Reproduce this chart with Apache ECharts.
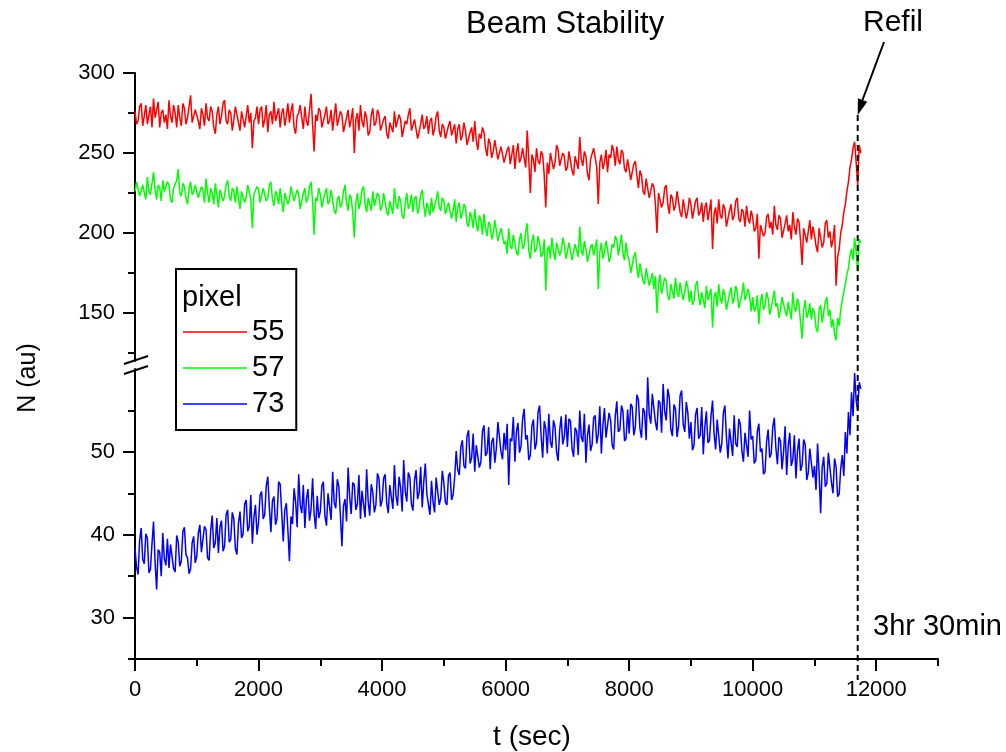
<!DOCTYPE html>
<html>
<head>
<meta charset="utf-8">
<title>Beam Stability</title>
<script src="https://cdn.jsdelivr.net/npm/echarts@6/dist/echarts.min.js"></script>
<style>
  html, body { margin: 0; padding: 0; background: #fff; }
  #chart { width: 1006px; height: 752px; }
</style>
</head>
<body>
<div id="chart"></div>
<script>
const tStep = 25
const refillTime = 11700

const pixel55 = [
  276, 268, 270, 279, 281, 267, 273, 280, 268, 274, 279, 266, 284, 272, 271, 282, 266, 275, 277, 269, 274, 265, 283, 273, 269, 280, 275, 266, 280, 272, 267, 281, 278, 268, 272, 279, 286, 269, 270, 277,
  277, 270, 265, 278, 274, 267, 281, 272, 270, 279, 276, 266, 262, 274, 279, 268, 273, 281, 283, 270, 268, 277, 275, 264, 271, 279, 280, 269, 264, 276, 277, 266, 273, 280, 269, 275, 253, 270, 272, 279,
  268, 277, 279, 266, 271, 280, 263, 274, 276, 268, 282, 270, 270, 278, 266, 275, 278, 267, 273, 281, 269, 276, 281, 266, 262, 273, 275, 280, 272, 265, 279, 270, 267, 277, 287, 268, 251, 274, 270, 278,
  276, 266, 265, 274, 279, 268, 270, 277, 264, 273, 281, 267, 268, 276, 274, 263, 262, 272, 277, 266, 271, 278, 250, 271, 275, 264, 280, 270, 266, 276, 272, 261, 263, 274, 278, 267, 269, 277, 274, 264,
  264, 271, 273, 262, 259, 269, 270, 263, 276, 266, 265, 274, 271, 260, 261, 270, 268, 274, 278, 264, 263, 271, 270, 259, 258, 268, 274, 265, 267, 273, 262, 270, 272, 261, 265, 273, 276, 264, 260, 268,
  266, 259, 258, 267, 270, 261, 262, 268, 256, 265, 268, 258, 261, 269, 264, 255, 254, 263, 266, 257, 270, 258, 252, 262, 259, 266, 263, 253, 248, 259, 256, 247, 251, 258, 258, 246, 245, 254, 253, 244,
  244, 252, 254, 243, 249, 255, 240, 250, 256, 244, 247, 253, 252, 241, 264, 246, 225, 249, 246, 238, 253, 245, 243, 251, 249, 236, 216, 244, 237, 250, 251, 240, 244, 255, 252, 242, 241, 250, 248, 239,
  241, 251, 250, 239, 236, 248, 247, 240, 260, 246, 242, 251, 248, 237, 233, 246, 245, 253, 252, 241, 218, 244, 249, 240, 244, 252, 238, 249, 247, 255, 251, 242, 254, 246, 243, 252, 250, 240, 238, 246,
  240, 233, 232, 243, 245, 236, 228, 239, 236, 226, 224, 234, 233, 222, 221, 231, 229, 218, 200, 225, 226, 216, 219, 228, 230, 218, 212, 224, 222, 214, 217, 226, 225, 213, 210, 221, 220, 209, 214, 222,
  218, 209, 210, 220, 222, 211, 213, 219, 207, 216, 219, 208, 214, 221, 190, 212, 216, 206, 221, 211, 209, 218, 215, 204, 205, 214, 218, 208, 211, 220, 222, 209, 207, 215, 213, 204, 217, 209, 206, 214,
  210, 201, 203, 212, 184, 205, 206, 198, 200, 210, 212, 203, 207, 199, 217, 205, 202, 211, 209, 197, 196, 206, 211, 201, 205, 196, 213, 204, 199, 209, 207, 195, 180, 203, 204, 194, 201, 208, 196, 204,
  199, 192, 188, 203, 204, 191, 194, 206, 208, 197, 201, 191, 196, 205, 167, 185, 190, 200, 205, 213, 218, 226, 232, 241, 246, 253, 257, 244, 230, 255, 250
]

const pixel57 = [
  226, 232, 231, 223, 222, 230, 229, 221, 235, 226, 224, 231, 238, 227, 221, 230, 228, 220, 233, 226, 225, 232, 230, 221, 219, 228, 227, 233, 240, 225, 223, 231, 229, 222, 218, 228, 232, 224, 226, 230,
  230, 222, 221, 229, 227, 219, 234, 225, 219, 228, 225, 218, 231, 224, 216, 227, 228, 220, 223, 230, 233, 223, 220, 228, 226, 219, 229, 222, 215, 226, 227, 219, 222, 230, 231, 221, 203, 224, 224, 229,
  227, 219, 218, 228, 229, 220, 222, 230, 232, 221, 217, 226, 224, 218, 228, 220, 213, 225, 226, 218, 221, 229, 230, 220, 219, 227, 224, 215, 216, 225, 228, 219, 222, 229, 232, 220, 199, 222, 220, 228,
  224, 216, 215, 225, 228, 218, 220, 227, 226, 214, 212, 221, 223, 216, 218, 226, 230, 219, 214, 224, 222, 213, 197, 219, 225, 215, 219, 227, 229, 218, 213, 222, 221, 214, 226, 217, 216, 225, 223, 214,
  217, 225, 224, 213, 211, 220, 221, 212, 228, 218, 215, 223, 220, 211, 209, 219, 225, 215, 218, 224, 213, 221, 223, 212, 216, 224, 227, 217, 210, 219, 219, 211, 222, 213, 212, 221, 226, 216, 214, 222,
  220, 212, 211, 219, 218, 209, 214, 221, 207, 216, 219, 209, 212, 218, 216, 206, 204, 213, 210, 203, 215, 206, 201, 211, 208, 199, 212, 203, 198, 207, 205, 196, 200, 208, 207, 195, 194, 203, 202, 193,
  195, 187, 203, 192, 190, 199, 198, 188, 186, 196, 200, 190, 192, 201, 206, 189, 184, 195, 199, 188, 190, 198, 194, 185, 187, 196, 164, 189, 192, 184, 197, 188, 183, 194, 195, 186, 189, 197, 193, 184,
  188, 194, 195, 183, 184, 193, 192, 185, 204, 189, 186, 195, 190, 182, 181, 191, 193, 186, 187, 196, 165, 188, 194, 184, 188, 195, 190, 182, 185, 193, 191, 198, 196, 186, 192, 199, 187, 183, 194, 186,
  183, 175, 176, 185, 188, 178, 172, 181, 180, 170, 168, 178, 177, 167, 171, 175, 165, 173, 150, 168, 174, 162, 163, 172, 170, 161, 158, 168, 167, 159, 172, 163, 160, 169, 169, 158, 163, 170, 166, 157,
  164, 155, 158, 167, 170, 160, 155, 163, 162, 153, 167, 158, 159, 165, 141, 160, 163, 154, 168, 159, 156, 165, 161, 152, 152, 162, 166, 156, 159, 167, 163, 153, 154, 162, 169, 158, 157, 165, 161, 151,
  160, 151, 153, 161, 143, 157, 162, 152, 155, 163, 159, 149, 150, 158, 164, 154, 156, 147, 152, 160, 160, 151, 148, 157, 157, 146, 163, 153, 151, 159, 155, 144, 134, 152, 158, 147, 150, 156, 146, 153,
  150, 141, 138, 152, 155, 144, 145, 157, 160, 148, 152, 141, 146, 137, 133, 147, 142, 152, 158, 163, 168, 174, 178, 186, 190, 183, 197, 188, 176, 196, 194
]

const pixel73 = [
  38.4, 36.1, 35.2, 39.3, 40.8, 37.0, 36.5, 40.1, 39.6, 35.4, 35.8, 38.9, 41.6, 36.7, 33.4, 38.2, 37.9, 35.0, 40.2, 37.1, 36.3, 39.5, 36.0, 38.8, 38.7, 35.9, 35.5, 39.9, 39.1, 36.2, 36.8, 40.4, 40.9, 37.6, 37.2, 35.3, 35.9, 39.0, 39.8, 36.6,
  37.4, 40.2, 41.2, 37.9, 38.1, 41.0, 40.6, 37.2, 36.9, 40.5, 42.3, 38.4, 39.0, 42.0, 37.8, 40.9, 41.7, 38.0, 38.6, 42.4, 43.0, 39.1, 39.4, 42.7, 41.9, 38.3, 37.6, 41.4, 42.8, 39.6, 40.1, 43.7, 44.2, 40.4, 41.0, 44.8, 38.9, 42.1, 43.6, 40.0,
  41.5, 44.8, 45.2, 41.9, 42.4, 45.9, 47.0, 43.3, 40.3, 44.1, 44.6, 41.2, 42.0, 46.4, 46.1, 42.7, 39.2, 43.0, 43.8, 40.6, 36.8, 42.2, 41.3, 45.6, 44.0, 40.9, 47.3, 43.6, 42.6, 46.0, 40.8, 44.3, 45.5, 41.7, 43.1, 46.8, 42.5, 40.7, 44.7, 42.0,
  42.8, 45.9, 46.4, 42.2, 41.1, 45.0, 44.9, 41.8, 47.6, 43.9, 43.2, 46.7, 45.8, 42.4, 38.6, 43.5, 44.3, 41.6, 48.1, 44.6, 42.5, 46.3, 46.0, 43.0, 43.7, 47.2, 41.9, 45.3, 45.4, 42.1, 47.9, 44.0, 42.3, 46.1, 45.1, 42.7, 43.6, 47.4, 46.8, 43.4,
  44.1, 46.8, 47.3, 43.8, 42.6, 46.0, 46.2, 43.1, 48.4, 44.7, 43.5, 47.0, 45.7, 42.8, 49.0, 45.2, 44.0, 47.5, 46.9, 43.7, 42.9, 46.6, 47.8, 44.3, 45.1, 48.2, 43.3, 46.4, 48.6, 44.9, 44.8, 42.4, 46.5, 44.0, 42.7, 46.9, 47.1, 43.6, 44.4, 47.7,
  46.3, 43.9, 43.6, 47.1, 47.5, 44.2, 44.8, 46.9, 50.1, 47.8, 47.2, 50.6, 51.4, 48.3, 48.0, 51.9, 52.6, 48.6, 49.3, 52.2, 47.6, 50.8, 51.0, 48.1, 48.8, 52.5, 53.2, 49.5, 49.9, 53.0, 47.9, 51.2, 51.7, 48.7, 50.4, 53.6, 53.8, 50.0, 49.1, 52.3,
  50.2, 53.4, 46.0, 51.6, 51.3, 54.2, 48.8, 52.4, 53.5, 49.9, 50.7, 54.0, 55.2, 51.5, 52.0, 49.0, 49.6, 53.1, 53.9, 50.3, 51.1, 54.8, 55.6, 51.9, 49.3, 53.7, 52.8, 49.8, 54.6, 51.2, 50.5, 53.8, 53.0, 50.0, 48.9, 52.6, 54.3, 50.9, 51.8, 54.5,
  50.6, 54.0, 53.7, 50.4, 49.4, 52.9, 52.5, 49.6, 55.0, 51.8, 51.2, 54.6, 48.7, 52.0, 53.3, 50.1, 50.9, 54.1, 54.4, 51.0, 52.1, 55.5, 49.8, 53.2, 55.3, 51.7, 51.5, 54.7, 53.8, 50.8, 50.3, 54.3, 56.1, 52.4, 52.7, 55.6, 54.9, 51.3, 51.6, 55.1,
  52.2, 55.8, 55.4, 52.0, 53.0, 56.9, 56.3, 52.8, 51.7, 55.3, 54.8, 51.4, 59.0, 54.5, 53.4, 57.0, 57.1, 53.6, 52.6, 56.2, 55.9, 52.3, 58.2, 54.9, 53.8, 57.6, 56.6, 52.7, 51.9, 55.7, 55.2, 51.8, 53.1, 56.8, 57.4, 53.3, 52.4, 56.0, 54.7, 51.6,
  53.6, 50.2, 50.8, 54.5, 55.3, 51.6, 52.0, 55.4, 49.7, 53.0, 54.9, 51.1, 51.4, 54.3, 56.2, 52.2, 50.3, 53.9, 53.7, 49.9, 51.0, 54.7, 55.6, 51.8, 49.2, 52.8, 52.9, 49.5, 54.4, 51.0, 50.6, 54.0, 53.3, 50.1, 48.8, 52.3, 52.4, 49.4, 55.0, 51.5,
  51.9, 48.6, 49.0, 52.5, 53.4, 50.0, 50.4, 47.3, 47.6, 51.2, 52.7, 49.3, 49.8, 53.0, 54.1, 50.5, 48.5, 51.8, 51.3, 47.9, 50.0, 53.1, 47.2, 50.7, 52.3, 48.3, 49.1, 52.0, 46.8, 50.1, 51.6, 47.7, 48.4, 51.5, 50.9, 46.6, 47.5, 50.4, 50.2, 46.9,
  48.3, 45.4, 51.0, 47.5, 42.6, 48.1, 49.4, 45.8, 46.2, 49.9, 50.1, 46.3, 45.0, 49.2, 48.2, 44.6, 44.9, 48.0, 49.6, 47.1, 52.4, 49.8, 54.8, 52.0, 57.2, 54.3, 59.5, 56.2, 55.0, 58.4, 57.6
]

const upperTicks = [150, 200, 250, 300]
const upperMinorTicks = [125, 175, 225, 275]
const lowerTicks = [30, 40, 50]
const lowerMinorTicks = [25, 35, 45, 55]
const timeTicks = [0, 2000, 4000, 6000, 8000, 10000, 12000]
const timeMinorTicks = [1000, 3000, 5000, 7000, 9000, 11000, 13000]

const FONT = '"Liberation Sans", Arial, sans-serif'
const black = { color: '#000', width: 2 }

const chart = echarts.init(document.getElementById('chart'))

function toPoints(values) {
  return values.map((v, i) => [i * tStep, v])
}

function majorAxis(extra) {
  return Object.assign({
    type: 'value',
    axisLine: { show: true, onZero: false, lineStyle: black },
    splitLine: { show: false },
  }, extra)
}

function minorAxis(extra, ticks) {
  return Object.assign({
    type: 'value',
    axisLine: { show: false },
    axisTick: { show: true, customValues: ticks, length: 7, lineStyle: black },
    axisLabel: { show: false },
    splitLine: { show: false },
  }, extra)
}

const labelStyle = {
  fontSize: 22, color: '#000', fontFamily: FONT, margin: 20,
  formatter: (v) => String(v),
}

const traceWidth = 1.5

const option = {
  animation: false,
  backgroundColor: '#fff',
  grid: [
    { left: 135, width: 803, top: 73, height: 288 },
    { left: 135, width: 803, top: 369, height: 290 },
  ],
  xAxis: [
    { gridIndex: 0, type: 'value', min: 0, max: 13000, show: false },
    majorAxis({
      gridIndex: 1, position: 'bottom', min: 0, max: 13000,
      axisTick: { show: true, customValues: timeTicks, length: 12, lineStyle: black },
      axisLabel: Object.assign({ customValues: timeTicks }, labelStyle),
    }),
    minorAxis({ gridIndex: 1, position: 'bottom', min: 0, max: 13000 }, timeMinorTicks),
  ],
  yAxis: [
    majorAxis({
      gridIndex: 0, position: 'left', min: 120, max: 300,
      axisTick: { show: true, customValues: upperTicks, length: 12, lineStyle: black },
      axisLabel: Object.assign({ customValues: upperTicks }, labelStyle),
    }),
    majorAxis({
      gridIndex: 1, position: 'left', min: 25, max: 60,
      axisTick: { show: true, customValues: lowerTicks, length: 12, lineStyle: black },
      axisLabel: Object.assign({ customValues: lowerTicks }, labelStyle),
    }),
    minorAxis({ gridIndex: 0, position: 'left', min: 120, max: 300 }, upperMinorTicks),
    minorAxis({ gridIndex: 1, position: 'left', min: 25, max: 60 }, lowerMinorTicks),
  ],
  legend: {
    left: 176,
    top: 269,
    orient: 'vertical',
    data: ['55', '57', '73'],
    icon: 'rect',
    itemWidth: 64,
    itemHeight: 1.5,
    itemGap: 6,
    padding: [48, 12, 11, 7],
    borderColor: '#000',
    borderWidth: 2,
    selectedMode: false,
    textStyle: { fontSize: 29, color: '#000', fontFamily: FONT, lineHeight: 30 },
  },
  series: [
    {
      name: '55', type: 'line', xAxisIndex: 0, yAxisIndex: 0,
      data: toPoints(pixel55), symbol: 'none',
      lineStyle: { color: '#ff0000', width: traceWidth }, itemStyle: { color: '#ff0000' },
    },
    {
      name: '57', type: 'line', xAxisIndex: 0, yAxisIndex: 0,
      data: toPoints(pixel57), symbol: 'none',
      lineStyle: { color: '#00ff00', width: traceWidth }, itemStyle: { color: '#00ff00' },
    },
    {
      name: '73', type: 'line', xAxisIndex: 1, yAxisIndex: 1,
      data: toPoints(pixel73), symbol: 'none',
      lineStyle: { color: '#0000ff', width: traceWidth }, itemStyle: { color: '#0000ff' },
    },
  ],
}

chart.setOption(option)

// annotations: titles, axis break, refill marker
const refillX = chart.convertToPixel({ xAxisIndex: 1 }, refillTime)
const textFont = (size) => size + 'px ' + FONT

chart.setOption({
  graphic: [
    { type: 'text', x: 466, y: 24, style: { text: 'Beam Stability', font: textFont(31), fill: '#000', verticalAlign: 'middle' } },
    { type: 'text', x: 863, y: 23, style: { text: 'Refil', font: textFont(30), fill: '#000', verticalAlign: 'middle' } },
    { type: 'text', x: 873, y: 627, style: { text: '3hr 30min', font: textFont(29), fill: '#000', verticalAlign: 'middle' } },
    { type: 'text', x: 182, y: 298, style: { text: 'pixel', font: textFont(29), fill: '#000', verticalAlign: 'middle' } },
    { type: 'text', x: 532, y: 737, style: { text: 't (sec)', font: textFont(28), fill: '#000', align: 'center', verticalAlign: 'middle' } },
    { type: 'text', x: 28, y: 378, rotation: Math.PI / 2, style: { text: 'N (au)', font: textFont(25), fill: '#000', align: 'center', verticalAlign: 'middle' } },
    // axis break marks
    { type: 'line', shape: { x1: 124, y1: 364, x2: 148, y2: 356 }, style: { stroke: '#000', lineWidth: 2 } },
    { type: 'line', shape: { x1: 124, y1: 374, x2: 148, y2: 366 }, style: { stroke: '#000', lineWidth: 2 } },
    // refill marker
    { type: 'line', z: 100, shape: { x1: refillX, y1: 115, x2: refillX, y2: 680 }, style: { stroke: '#000', lineWidth: 2, lineDash: [6, 4] } },
    { type: 'line', shape: { x1: 884, y1: 42, x2: 862.5, y2: 100 }, style: { stroke: '#000', lineWidth: 2 } },
    { type: 'polygon', shape: { points: [[refillX, 115], [867.3, 101.7], [857.9, 98.3]] }, style: { fill: '#000' } },
  ],
})

window.addEventListener('resize', () => chart.resize())
</script>
</body>
</html>
